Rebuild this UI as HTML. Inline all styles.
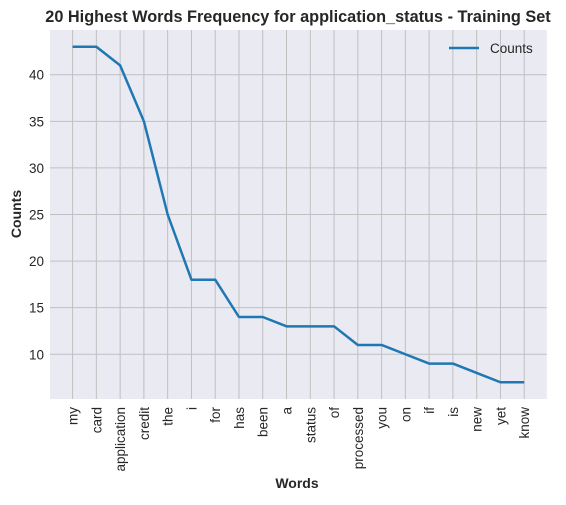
<!DOCTYPE html>
<html><head><meta charset="utf-8"><style>
body{margin:0;background:#fff;}
svg text{font-family:"Liberation Sans",Arial,sans-serif;fill:#262626;}
</style></head><body>
<svg width="566" height="500" xmlns="http://www.w3.org/2000/svg">
<text x="298" y="22" text-anchor="middle" font-size="16.3" font-weight="bold">20 Highest Words Frequency for application_status - Training Set</text>
<rect x="50" y="30" width="496.8" height="369" fill="#eaeaf2"/>
<g id="grid"></g>
<g id="ticks"></g>
<polyline id="line" fill="none" stroke="#1f77b4" stroke-width="2.5" stroke-linejoin="round"/>
<line x1="449" y1="48" x2="479" y2="48" stroke="#1f77b4" stroke-width="2.5"/>
<text x="490" y="53" font-size="13.5">Counts</text>
<text x="297" y="488" text-anchor="middle" font-size="14" font-weight="bold">Words</text>
<text transform="translate(21,214) rotate(-90)" text-anchor="middle" font-size="14" font-weight="bold">Counts</text>
</svg>
<script>
const words=["my","card","application","credit","the","i","for","has","been","a","status","of","processed","you","on","if","is","new","yet","know"];
const counts=[43,43,41,35,25,18,18,14,14,13,13,13,11,11,10,9,9,8,7,7];
const yTicks=[10,15,20,25,30,35,40];
const NS="http://www.w3.org/2000/svg";
const L=50,R=546.8,T=30,B=399;
const n=words.length;
const step=(R-L)/(n-1+1.9);
function x(i){return L+(i+0.95)*step;}
const mn=Math.min(...counts),mx=Math.max(...counts),pad=(mx-mn)*0.05;
function y(v){return B-(v-(mn-pad))/((mx+pad)-(mn-pad))*(B-T);}
const grid=document.getElementById('grid'),ticks=document.getElementById('ticks');
function mk(tag,attrs,parent){const e=document.createElementNS(NS,tag);for(const k in attrs)e.setAttribute(k,attrs[k]);parent.appendChild(e);return e;}
yTicks.forEach(v=>{
  const g=mk('line',{x1:L,x2:R,y1:y(v),y2:y(v),stroke:'#c0c0c0','stroke-width':1},grid);
  
  
  const t=mk('text',{x:L-6,y:y(v)+5,'text-anchor':'end','font-size':13.5},ticks);
  t.textContent=v;
  
  
});
words.forEach((w,i)=>{
  const g=mk('line',{x1:x(i),x2:x(i),y1:T,y2:B,stroke:'#c0c0c0','stroke-width':1},grid);
  
  
  const t=mk('text',{transform:`translate(${x(i)+5},${B+8}) rotate(-90)`,'text-anchor':'end','font-size':13.5},ticks);
  t.textContent=w;
  
  
});
document.getElementById('line').setAttribute('points',counts.map((v,i)=>x(i)+','+y(v)).join(' '));
</script>
</body></html>
